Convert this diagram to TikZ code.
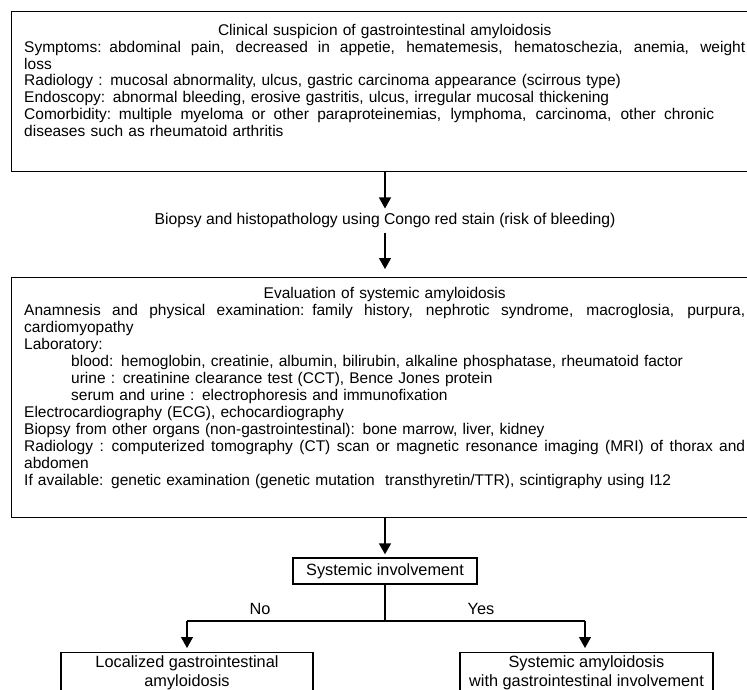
\documentclass[tikz,border=0pt]{standalone}
\usepackage{fontspec}
\setmainfont{Liberation Sans}
\usetikzlibrary{arrows.meta}
\newcommand\justline[1]{\leavevmode\hbox to\hsize{\spaceskip=\fontdimen2\font plus 1fill\relax #1}}
\newcommand\spreadline[2]{\leavevmode\hbox to #1{\spaceskip=\fontdimen2\font plus 1fill\relax #2\hss}}
\newcommand\midline[1]{\leavevmode\hbox to\hsize{\hss #1\hss}}
\begin{document}
\begin{tikzpicture}[x=1pt,y=-1pt,
  boxline/.style={draw=black, line width=1.3pt, inner sep=0pt, fill=none},
  bodytext/.style={inner sep=0pt, anchor=north west, text width=721pt, align=left,
    font=\fontsize{15.5}{16.8}\selectfont},
  flow/.style={line width=1.3pt, -{Triangle[width=12pt,length=11pt]}},
  plain/.style={line width=1.3pt},
  lbl/.style={inner sep=0pt, font=\fontsize{16.3}{19}\selectfont}]
\useasboundingbox (0,0) rectangle (747,690);
\clip (0,0) rectangle (747,690);
\fill[white] (0,0) rectangle (747,690);
% top box
\node[boxline, anchor=north west, minimum width=746pt, minimum height=160pt] (top) at (11,11) {};
\node[bodytext] (toptext) at (24,24) {%
\midline{Clinical suspicion of gastrointestinal amyloidosis}\\
\justline{Symptoms: abdominal pain, decreased in appetie, hematemesis, hematoschezia, anemia, weight}\\
loss\\
Radiology : mucosal abnormality, ulcus, gastric carcinoma appearance (scirrous type)\\
Endoscopy: abnormal bleeding, erosive gastritis, ulcus, irregular mucosal thickening\\
\spreadline{690pt}{Comorbidity: multiple myeloma or other paraproteinemias, lymphoma, carcinoma, other chronic}\\
diseases such as rheumatoid arthritis};
% biopsy
\node[inner sep=0pt, font=\fontsize{15.7}{17}\selectfont] (biopsy) at (385,220) {Biopsy and histopathology using Congo red stain (risk of bleeding)};
% second box
\node[boxline, anchor=north west, minimum width=746pt, minimum height=240pt] (eval) at (11,277) {};
\node[bodytext, font=\fontsize{15.5}{17}\selectfont] (evaltext) at (24,287) {%
\midline{Evaluation of systemic amyloidosis}\\
\justline{Anamnesis and physical examination: family history, nephrotic syndrome, macroglosia, purpura,}\\
cardiomyopathy\\
Laboratory:\\
\hspace*{47pt}blood: hemoglobin, creatinie, albumin, bilirubin, alkaline phosphatase, rheumatoid factor\\
\hspace*{47pt}urine : creatinine clearance test (CCT), Bence Jones protein\\
\hspace*{47pt}serum and urine : electrophoresis and immunofixation\\
Electrocardiography (ECG), echocardiography\\
Biopsy from other organs (non-gastrointestinal): bone marrow, liver, kidney\\
\justline{Radiology : computerized tomography (CT) scan or magnetic resonance imaging (MRI) of thorax and}\\
abdomen\\
If available: genetic examination (genetic mutation~~transthyretin/TTR), scintigraphy using I12};
% systemic involvement
\node[boxline, minimum width=184pt, minimum height=26pt, font=\fontsize{16.3}{19}\selectfont] (sys) at (385,571) {Systemic involvement};
\coordinate (split) at (385,621);
\coordinate (lcorner) at (187,621);
\coordinate (rcorner) at (585,621);
% bottom boxes
\node[boxline, anchor=north, minimum width=252pt, minimum height=60pt] (loc) at (187,652) {};
\node[boxline, anchor=north, minimum width=253pt, minimum height=60pt] (sysgi) at (586.5,652) {};
\node[lbl, align=center, anchor=north] (loctext) at (187,655) {Localized gastrointestinal\\amyloidosis};
\node[lbl, align=center, anchor=north] (sysgitext) at (586.5,655) {Systemic amyloidosis\\with gastrointestinal involvement};
% labels
\node[lbl] (no) at (260,609) {No};
\node[lbl] (yes) at (481,609) {Yes};
% connectors
\draw[flow] (top.south -| biopsy.north) -- ([yshift=4pt]biopsy.north);
\draw[flow] ([yshift=-5pt]biopsy.south) -- ([yshift=8pt]eval.north -| biopsy.south);
\draw[flow] (eval.south -| sys.north) -- ([yshift=3pt]sys.north);
\draw[plain] (sys.south) -- (split);
\draw[plain] (lcorner) -- (rcorner);
\draw[flow] (lcorner) -- ([yshift=4pt]loc.north);
\draw[flow] (rcorner) -- ([yshift=4pt]sysgi.north -| rcorner);
\end{tikzpicture}
\end{document}
